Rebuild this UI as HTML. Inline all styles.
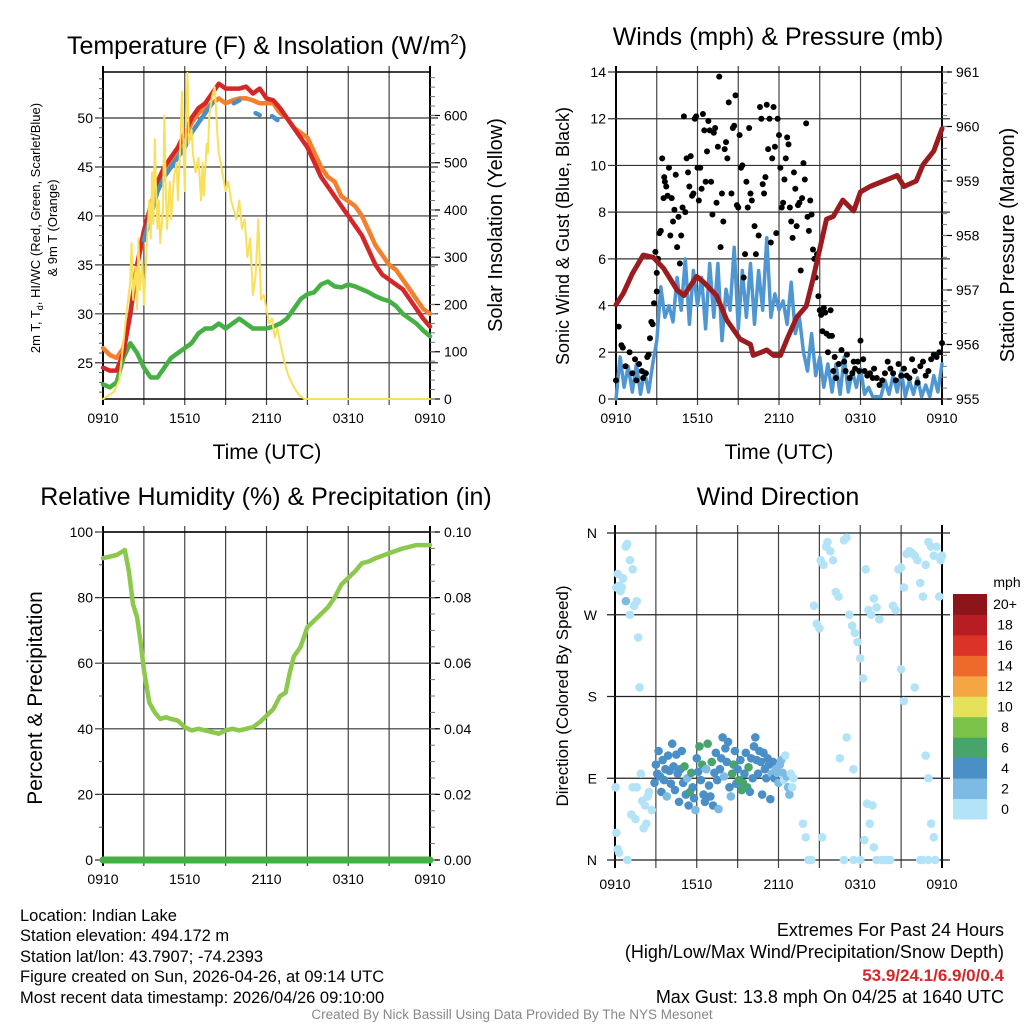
<!DOCTYPE html>
<html><head><meta charset="utf-8"><style>
body{margin:0;background:#fff;}
svg{display:block;font-family:"Liberation Sans",Arial,sans-serif;}
</style></head><body>
<svg id="c" width="1024" height="1024" viewBox="0 0 1024 1024" xmlns="http://www.w3.org/2000/svg">
<rect width="1024" height="1024" fill="#fff"/>
<g id="g"></g>
<text x="267" y="54" font-size="25" text-anchor="middle">Temperature (F) &amp; Insolation (W/m<tspan font-size="15" dy="-10">2</tspan><tspan dy="10">)</tspan></text>
<text x="778" y="45" font-size="25" text-anchor="middle">Winds (mph) &amp; Pressure (mb)</text>
<text x="266" y="505" font-size="25" text-anchor="middle">Relative Humidity (%) &amp; Precipitation (in)</text>
<text x="778" y="505" font-size="25" text-anchor="middle">Wind Direction</text>
<text x="267" y="459" font-size="21" text-anchor="middle">Time (UTC)</text>
<text x="779" y="459" font-size="21" text-anchor="middle">Time (UTC)</text>
<text transform="translate(40,228) rotate(-90)" font-size="13" text-anchor="middle">2m T, T<tspan font-size="9" dy="3">d</tspan><tspan dy="-3">, HI/WC (Red, Green, Scarlet/Blue)</tspan></text>
<text transform="translate(57,228) rotate(-90)" font-size="13" text-anchor="middle">&amp; 9m T (Orange)</text>
<text transform="translate(502,225) rotate(-90)" font-size="20" text-anchor="middle">Solar Insolation (Yellow)</text>
<text transform="translate(569,236) rotate(-90)" font-size="18" text-anchor="middle">Sonic Wind &amp; Gust (Blue, Black)</text>
<text transform="translate(1014,245) rotate(-90)" font-size="20" text-anchor="middle">Station Pressure (Maroon)</text>
<text transform="translate(42,698) rotate(-90)" font-size="21" text-anchor="middle">Percent &amp; Precipitation</text>
<text transform="translate(568,696) rotate(-90)" font-size="17" text-anchor="middle">Direction (Colored By Speed)</text>
<text x="1007" y="587" font-size="14" text-anchor="middle">mph</text>
<g font-size="16.5">
<text x="20" y="921">Location: Indian Lake</text>
<text x="20" y="941">Station elevation: 494.172 m</text>
<text x="20" y="962">Station lat/lon: 43.7907; -74.2393</text>
<text x="20" y="982">Figure created on Sun, 2026-04-26, at 09:14 UTC</text>
<text x="20" y="1003">Most recent data timestamp: 2026/04/26 09:10:00</text>
</g>
<g font-size="18" text-anchor="end">
<text x="1004" y="936">Extremes For Past 24 Hours</text>
<text x="1004" y="958">(High/Low/Max Wind/Precipitation/Snow Depth)</text>
<text x="1004" y="981" fill="#d62728" font-weight="bold" font-size="17">53.9/24.1/6.9/0/0.4</text>
<text x="1004" y="1003">Max Gust: 13.8 mph On 04/25 at 1640 UTC</text>
</g>
<text x="512" y="1019" font-size="13.5" fill="#888" text-anchor="middle">Created By Nick Bassill Using Data Provided By The NYS Mesonet</text>
</svg>
<script>
// ---- data ----
const timeLabels=["0910","1510","2110","0310","0910"];
const tempRed=[24.5,24.2,24.2,26,30,35,38.5,41,43.5,45,46,47,48.5,50,51,51.5,52.5,53.5,53,53,53,53.2,52.5,53,52,51.8,51,50,49,48,47,45.5,44,43,42,41,40,39,38,36.5,35,34,33.5,33,32.5,31.5,30.5,29.5,28.7];
const tempOrange=[26.5,25.8,25.5,26.5,30,35,38,40.5,43,44.5,45.5,46.5,48,49.5,50.5,51,51.5,52,51.5,51.8,52,52,51.8,51.5,51.5,51.5,50.5,50,49,48.5,48,46.5,45,44,43.5,42,41.5,41,40,38.5,37,36,35,34.5,33.5,32.5,31.5,30.5,30];
const dewGreen=[22.8,22.5,23,25.5,27,26,24.5,23.5,23.5,24.5,25.5,26,26.5,27,28,28.5,28.5,29,28.5,29,29.5,29,28.5,28.5,28.5,28.7,29,29.5,30.5,31.5,32,32.2,33,33.3,32.8,32.7,33,32.8,32.5,32.2,31.8,31.5,31.3,30.8,30,29.5,29,28.3,27.7];
const wcHours=[3,3.5,4,4.5,5,5.5,6,6.5,7,7.5,8,null,9.6,10,null,11.2,11.5,null,12.4,12.8];
const wcVals=[37.5,40,42.5,44,45,46,47,48.5,49.5,50.5,51.5,null,51.5,51.8,null,50.5,50.3,null,50.2,49.8];
const solarHours=[0,.8,1.2,1.5,1.8,2,2.1,2.2,2.4,2.5,2.6,2.7,2.9,3,3.2,3.4,3.5,3.6,3.7,3.8,3.9,4,4.1,4.2,4.4,4.5,4.6,4.7,4.9,5,5.2,5.4,5.5,5.7,5.8,6,6.1,6.2,6.3,6.5,6.6,6.8,7,7.2,7.3,7.4,7.6,7.7,7.8,8,8.2,8.4,8.5,8.7,9,9.2,9.4,9.6,9.8,10,10.2,10.4,10.6,10.8,11,11.2,11.4,11.6,11.8,12,12.2,12.4,12.6,12.8,13,13.3,13.6,14,14.4,14.8,24];
const solarVals=[0,15,40,120,200,250,330,210,280,190,340,230,290,200,320,420,340,480,370,550,440,360,420,330,400,600,450,360,460,380,470,500,420,560,650,440,600,690,540,570,520,480,510,420,500,430,540,520,600,640,660,560,520,490,440,460,420,400,380,420,360,380,300,340,220,260,380,210,220,190,160,170,130,150,120,80,50,25,8,0,0];
const windSust=[0,1.8,0.5,1.4,0.3,1.5,0.2,1.2,0.3,1.5,2.5,4.8,3.5,4,3.3,5.2,3.8,6,3.2,5.5,4,5.2,3,5.8,3.5,5.8,2.5,4.7,3.8,6.5,3,5.5,3.5,5.8,3.2,5.5,3.8,6.9,3.5,4.5,3.8,4.2,3.2,5,2.8,3.5,2,1.2,2.8,1,1.8,0.5,1.5,0.3,1.5,0.2,1.8,0.3,1.2,0.5,1.3,0.2,0.5,0.1,0.1,0.1,0.8,0.2,1,0.3,1.2,0.1,0.8,0.2,0.9,0.1,0.6,0.1,1,0.3,1.5];
const gustHours=[0,0.2,0.4,0.5,0.7,1,1.2,1.4,1.5,1.7,1.9,2,2.2,2.3,2.4,2.5,2.6,2.7,2.8,2.9,3,3,3.1,3.2,3.3,3.4,3.5,3.55,3.6,3.7,3.8,3.9,4,4.1,4.2,4.3,4.4,4.5,4.6,4.7,4.8,4.9,5,5.1,5.2,5.3,5.4,5.5,5.6,5.7,5.8,5.9,6,6.1,6.2,6.3,6.4,6.5,6.6,6.7,6.8,6.9,7,7.1,7.2,7.3,7.4,7.5,7.6,7.7,7.8,7.9,8,8.1,8.2,8.3,8.5,8.6,8.7,8.8,8.9,9,9.1,9.2,9.3,9.4,9.5,9.6,9.7,9.8,9.9,10,10.2,10.3,10.5,10.6,10.7,10.8,10.9,11,11.1,11.2,11.3,11.4,11.5,11.6,11.7,11.8,11.9,12,12.1,12.2,12.3,12.4,12.5,12.6,12.7,12.8,12.9,13,13.1,13.2,13.3,13.4,13.5,13.6,13.7,13.8,13.9,14,14.1,14.2,14.3,14.4,14.5,14.6,14.7,14.8,14.9,15,15.1,15.2,15.3,15.4,15.5,15.6,15.7,15.8,15.9,16,16.1,16.2,16.4,16.6,16.8,16.9,17,17.2,17.4,17.5,17.6,17.8,17.9,18,18.2,18.3,18.5,18.7,18.9,19,19.2,19.4,19.6,19.8,20,20.2,20.4,20.6,20.8,21,21.2,21.4,21.6,21.8,22,22.2,22.4,22.6,22.8,23,23.2,23.4,23.6,23.8,24];
const gustVals=[0.8,3.1,2.3,2.2,1.4,2,1.1,1.7,0.8,1.5,1.2,0.9,1.1,1.8,1.9,2.6,3.3,3.2,4.1,6.3,5.4,4.6,6,7.1,7.2,10.3,8.6,9.5,9.3,9.1,8.7,9.9,7,8.6,7.6,8.1,9.6,6.5,7.8,5.8,7,8.2,12.1,8,10.3,9.7,9.1,10.4,8.7,8.8,12,12.1,9.9,8.5,9.9,9,12.2,11.5,9.3,10.6,11.9,11.5,9.3,7.9,11.4,11.6,8.4,10.8,13.8,6.5,8.8,7.6,10.7,11,10.3,12.7,8.8,11.6,11.7,13,8.3,8.2,11.3,9.9,10,5.2,6.2,9.3,8.2,11.6,8.8,8.5,7.4,6.2,7,12.5,12,9.2,8.8,9.5,12.6,10.7,12,6.7,10.3,12.5,10.8,7.1,12,11.3,9.9,8.2,8.4,9.4,10.3,11.2,10.9,8.2,7.6,6.9,9.7,9,7.4,8.3,8.4,5.5,8.6,10.1,9.4,11.8,7.8,7.2,8.5,7.9,6.4,6,5.2,6.2,4.4,3.8,3.6,2.9,3.9,3.7,2.8,2,2.7,3.8,2.7,1.2,1.8,0.9,1.5,2.1,1.6,1.2,1.9,0.9,1.1,1.6,1.3,1.6,1.2,2.5,1.7,1.2,1,1.1,0.9,1.3,0.9,0.6,0.8,1.1,1.6,1.3,1.1,0.8,1.5,1,1.3,1,0.9,1.7,1.2,0.7,1.4,1.6,1,1.2,1.7,1.9,1.8,2,2.4];
const presHours=[0,0.54,1.2,2.0,2.74,3.5,4.5,5,5.94,6.43,7.4,8.15,9.13,9.9,10.1,11.1,11.6,12.1,12.6,13.3,14.0,14.5,15.5,16.0,16.7,17.5,18.0,18.7,19.7,20.7,21.2,22.1,22.6,23.4,24];
const presVals=[956.73,956.94,957.3,957.64,957.6,957.4,957.0,956.9,957.25,957.15,956.9,956.45,956.1,956.0,955.8,955.9,955.8,955.8,956.1,956.5,956.7,957.2,958.3,958.35,958.65,958.45,958.8,958.9,959.0,959.1,958.9,959.0,959.3,959.55,959.96];
const rhHours=[0,1,1.6,1.9,2.2,2.5,2.8,3,3.4,3.8,4.2,4.6,5,5.5,6,6.5,7,7.5,8,8.5,9,9.5,10,10.5,11,11.5,12,12.5,13,13.4,13.7,14,14.5,15,15.5,16,16.5,17,17.5,18,18.5,19,19.5,20,21,22,23,24];
const rhVals=[92,93,94.5,88,78,74,65,58,48,45,43,43.5,43,42.5,40.5,39.5,40,39.5,39,38.5,39.5,40,39.5,40,40.5,42,44,46,50,51,57,62,65,71,73,75,77,80,84,86,88,90.5,91,92,93.5,95,96,96];
const precipHours=[0,24];
const precipVals=[0,0];
const wdHours=[0.1,0.2,0.3,0.4,0.5,0.6,0.8,0.9,1.1,1.3,1.6,1.7,1.8,1.1,1.4,0.05,0.1,0.2,0.3,0.9,1.6,1.2,1.3,2,1.5,2.2,2.3,1.9,2.1,2.4,2.5,2.7,0.8,2.9,3.0,3.1,3.2,3.3,3.4,3.5,3.6,3.7,3.8,3.9,4.0,4.1,4.2,4.3,4.4,4.5,4.6,4.7,4.8,4.9,5.0,5.1,5.2,5.3,5.4,5.5,5.6,5.7,5.8,5.9,6.0,6.1,6.2,6.3,6.4,6.5,6.6,6.7,6.8,6.9,7.0,7.1,7.2,7.3,7.4,7.5,7.6,7.7,7.8,7.9,8.0,8.1,8.2,8.3,8.4,8.5,8.6,8.7,8.8,8.9,9.0,9.1,9.2,9.3,9.4,9.5,9.6,9.7,9.8,9.9,10.0,10.1,10.2,10.3,10.4,10.5,10.6,10.7,10.8,10.9,11.0,11.1,11.2,11.3,11.4,11.5,11.6,11.7,11.8,11.9,12.0,12.1,12.2,12.3,12.4,12.5,12.6,12.7,12.8,12.9,13.0,13.1,13.8,14.0,14.2,14.4,14.6,14.8,15.0,15.1,15.3,15.5,15.6,15.8,16.0,16.2,16.4,16.8,17.0,17.2,17.4,17.6,17.8,18.0,18.2,18.4,18.6,18.8,19.0,19.2,19.4,18.5,18.7,18.9,18.3,19.0,19.2,19.6,19.8,20.0,20.2,20.4,20.6,20.8,21.0,21.2,21.4,21.6,21.8,22.0,22.2,22.4,22.6,22.8,23.0,23.2,23.4,23.6,23.8,23.9,21.0,21.2,22.0,22.4,22.6,22.8,23.0,23.2,23.4,23.0,23.5,24.0,17.5,17.0,16.5,15.2,16.8,17.5,18.0];
const wdDeg=[300,315,302,296,300,310,345,348,330,320,285,245,190,270,280,80,30,12,8,0,80,50,80,65,45,60,40,95,35,70,75,55,285,85,105,95,120,92,75,110,88,100,70,115,98,84,128,103,77,116,95,64,100,120,85,103,72,90,60,75,96,80,68,55,112,97,125,88,105,72,64,100,128,82,70,108,60,96,118,88,56,100,112,135,92,123,108,130,80,70,95,105,120,84,100,88,110,77,85,95,118,80,102,75,112,90,125,135,110,95,120,108,72,118,100,90,112,105,67,95,108,90,100,96,85,105,110,96,88,115,92,80,72,95,80,90,40,25,0,0,280,260,255,330,325,345,350,340,330,295,290,352,355,270,258,250,240,222,200,320,275,270,288,278,265,62,40,60,22,14,0,0,0,0,0,280,275,320,322,300,337,340,338,335,330,305,290,325,350,345,335,345,290,330,210,175,190,0,0,115,90,40,25,0,0,335,100,135,112,25,0,0,0];
const wdSpd=[1,1,1,1,1,1,1,1,1,1,1,1,1,1,1,1,1,1,1,1,1,1,1,1,1,1,1,1,1,1,1,1,3,5,5,5,5,5,5,5,5,5,3,5,5,5,5,5,5,5,5,5,5,5,5,7,5,3,5,7,7,5,5,3,5,5,7,5,7,5,5,3,7,5,5,7,5,5,5,5,3,5,5,5,3,5,5,5,5,3,7,7,5,5,5,7,5,7,7,5,5,7,7,5,5,5,5,5,5,5,5,5,5,5,5,5,5,5,5,3,5,5,3,3,3,3,3,3,1,1,3,3,3,1,1,1,1,1,1,1,1,1,1,1,1,1,1,1,1,1,1,1,1,1,1,1,1,1,1,1,1,1,1,1,1,1,1,1,1,1,1,1,1,1,1,1,1,1,1,1,1,1,1,1,1,1,1,1,1,1,1,1,1,1,1,1,1,1,1,1,1,1,1,1,1,1,1,1,1,1,1,1,1,1,1,1,1,1,1,1,1];
const cbLabels=["0","2","4","6","8","10","12","14","16","18","20+"];
const cbColors=["#b3e3f7","#7dbbe4","#4a8fc6","#47a56c","#7ac24a","#e5e25a","#f4a642","#ee6a2c","#dc3328","#b91d24","#8c1519"];
// ---- drawing ----
const NS="http://www.w3.org/2000/svg";
const G=document.getElementById('g');
function el(tag,attrs,parent){const e=document.createElementNS(NS,tag);for(const k in attrs)e.setAttribute(k,attrs[k]);(parent||G).appendChild(e);return e;}
function txt(x,y,s,size,anchor,parent){const t=el('text',{x:x,y:y,'font-size':size,'text-anchor':anchor},parent);t.textContent=s;return t;}
function mkAxis(x0,x1,y0,y1){return {x0,x1,y0,y1,
 X:h=>x0+(x1-x0)*h/24,
 Y:(v,lo,hi)=>y1-(y1-y0)*(v-lo)/(hi-lo)};}
function frame(P,name,leftTicks,lLo,lHi,minorStep,leftFmt,rightTicks,rLo,rHi,rMinor,rightFmt){
 const g=el('g',{});
 
 
 for(let h=0;h<=24;h+=3){const x=P.X(h);el('line',{x1:x,x2:x,y1:P.y0-6,y2:P.y1+6,stroke:(h==0||h==24)?'#000':'#444','stroke-width':(h==0||h==24)?2:1.2},g);}
 leftTicks.forEach(v=>{const y=P.Y(v,lLo,lHi);el('line',{x1:P.x0-8,x2:P.x1+8,y1:y,y2:y,stroke:'#333','stroke-width':1.2},g);
  txt(P.x0-10,y+5,leftFmt(v),14,'end',g);});
 if(minorStep){for(let v=Math.ceil(lLo/minorStep)*minorStep;v<=lHi+1e-9;v+=minorStep){const y=P.Y(v,lLo,lHi);el('line',{x1:P.x0-4,x2:P.x0,y1:y,y2:y,stroke:'#555','stroke-width':1},g);}}
 rightTicks.forEach(v=>{const y=P.Y(v,rLo,rHi);el('line',{x1:P.x1,x2:P.x1+10,y1:y,y2:y,stroke:'#000','stroke-width':1.2},g);txt(P.x1+14,y+5,rightFmt(v),14,'start',g);});
 if(rMinor){for(let v=Math.ceil(rLo/rMinor)*rMinor;v<=rHi+1e-9;v+=rMinor){const y=P.Y(v,rLo,rHi);el('line',{x1:P.x1,x2:P.x1+5,y1:y,y2:y,stroke:'#777','stroke-width':1},g);}}
 el('line',{x1:P.x0,x2:P.x1,y1:P.y0,y2:P.y0,stroke:'#000','stroke-width':1.5},g);
 el('line',{x1:P.x0,x2:P.x1,y1:P.y1,y2:P.y1,stroke:'#000','stroke-width':1.5},g);
 timeLabels.forEach((s,i)=>txt(P.X(i*6),P.y1+24,s,14,'middle',g));
}
function path(P,hs,vs,lo,hi,color,w,name){let d='',pen=false;for(let i=0;i<hs.length;i++){if(hs[i]===null){pen=false;continue;}const x=P.X(hs[i]),y=P.Y(vs[i],lo,hi);d+=(pen?'L':'M')+x.toFixed(1)+' '+y.toFixed(1);pen=true;}
 const p=el('path',{d:d,fill:'none',stroke:color,'stroke-width':w,'stroke-linejoin':'round','stroke-linecap':'round'});
 
 return p;}
const even=n=>Array.from({length:n},(_,i)=>i*24/(n-1));

// Panel 1: temperature
const T=mkAxis(103,430,72,399);
const tLo=21.3,tHi=54.7,sLo=0,sHi=692;
frame(T,'temp',[25,30,35,40,45,50],tLo,tHi,1,v=>v,[0,100,200,300,400,500,600],sLo,sHi,20,v=>v);
path(T,even(tempOrange.length),tempOrange,tLo,tHi,'#f47f2c',4.5,'temp-9m-line');
path(T,even(dewGreen.length),dewGreen,tLo,tHi,'#45b043',4.5,'dewpoint-line');
path(T,even(tempRed.length),tempRed,tLo,tHi,'#d62728',4.5,'temp-2m-line');
path(T,wcHours,wcVals,tLo,tHi,'#4a8fc6',4.5,'windchill-line');
path(T,solarHours,solarVals,sLo,sHi,'#f8e05a',2,'solar-line');

// Panel 2: winds
const W=mkAxis(616,942,72,399);
frame(W,'wind',[0,2,4,6,8,10,12,14],0,14,0,v=>v,[955,956,957,958,959,960,961],955,961,0.2,v=>v);
path(W,even(windSust.length),windSust,0,14,'#4f97d2',3.5,'sustained-wind-line');
for(let i=0;i<gustHours.length;i++){const c=el('circle',{cx:W.X(gustHours[i]),cy:W.Y(gustVals[i],0,14),r:3,fill:'#000'});
 
 }
path(W,presHours,presVals,955,961,'#9b1c1f',5,'pressure-line');

// Panel 3: RH
const R=mkAxis(103,430,532,860);
frame(R,'rh',[0,20,40,60,80,100],0,100,10,v=>v,[0,0.02,0.04,0.06,0.08,0.1],0,0.1,0.005,v=>v.toFixed(2));
path(R,rhHours,rhVals,0,100,'#8cc84b',4.5,'rh-line');
path(R,precipHours,precipVals,0,0.1,'#45b043',7,'precip-line');

// Panel 4: wind direction
const D=mkAxis(615,942,533,860);
const dirNames=["N","E","S","W","N"];
(function(){const g=el('g',{});
 
 
 for(let h=0;h<=24;h+=3){const x=D.X(h);el('line',{x1:x,x2:x,y1:D.y0-8,y2:D.y1+8,stroke:(h==0||h==24)?'#000':'#444','stroke-width':(h==0||h==24)?2:1.2},g);}
 dirNames.forEach((s,i)=>{const y=D.Y(i*90,0,360);el('line',{x1:D.x0-8,x2:D.x1+8,y1:y,y2:y,stroke:'#222','stroke-width':1.2},g);txt(D.x0-18,y+5,s,14,'end',g);});
 timeLabels.forEach((s,i)=>txt(D.X(i*6),D.y1+29,s,14,'middle',g));})();
function spdColor(s){const i=Math.min(10,Math.floor(s/2));return cbColors[i];}
for(let i=0;i<wdHours.length;i++){const c=el('circle',{cx:D.X(wdHours[i]),cy:D.Y(wdDeg[i],0,360),r:4.3,fill:spdColor(wdSpd[i])});
 
 }
// colorbar
(function(){const g=el('g',{});
 
 
 const bx=953,bw=34,by=594,bh=225/11;
 cbColors.forEach((c,i)=>{const y=by+bh*(10-i);el('rect',{x:bx,y:y,width:bw,height:bh+0.5,fill:c},g);
  txt(1005,y+bh/2+5,cbLabels[i],14,'middle',g);});})();
</script>
</body></html>
